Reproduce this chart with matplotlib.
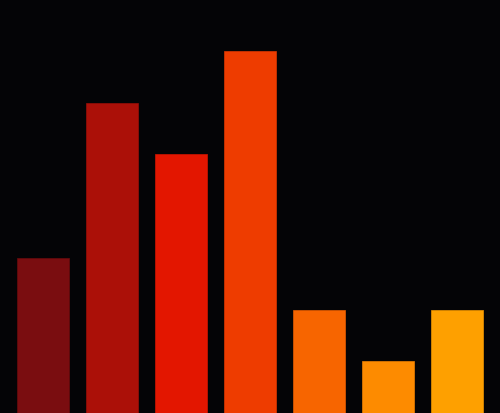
import matplotlib
matplotlib.use("Agg")
import matplotlib.pyplot as plt

# bar values
categories = ["a", "b", "c", "d", "e", "f", "g"]
values = [3, 6, 5, 7, 2, 1, 2]
colors = ["#7a0d10", "#ab1008", "#e31600", "#ee3c00", "#f76500", "#fd8b00", "#fea000"]
edges = ["#6a0a0c", "#9a0d06", "#d01400", "#dc3600", "#e55c00", "#ec7f00", "#ee9400"]

bg = "#040406"

fig = plt.figure(figsize=(5.0, 4.14), dpi=100, facecolor=bg)
ax = fig.add_axes([0, 0, 1, 1])
ax.set_facecolor(bg)

xs = range(len(categories))
ax.bar(xs, values, width=0.74, color=colors, edgecolor=edges, linewidth=0.5)

ax.set_xlim(-0.623, len(categories) - 1 + 0.623)
ax.set_ylim(0, 8)
ax.axis("off")

fig.savefig("out.png", dpi=100, facecolor=bg)
